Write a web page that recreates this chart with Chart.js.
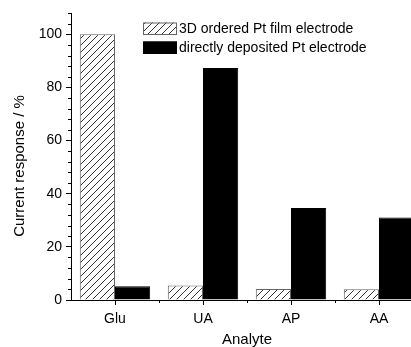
<!DOCTYPE html>
<html>
<head>
<meta charset="utf-8">
<script src="https://cdn.jsdelivr.net/npm/chart.js@4.4.1/dist/chart.umd.min.js"></script>
<style>
  html, body { margin: 0; padding: 0; background: #fff; overflow: hidden; }
  #wrap { position: relative; width: 424px; height: 347px; }
</style>
</head>
<body>
<div id="wrap"><canvas id="c"></canvas></div>
<script>
const categories = ['Glu', 'UA', 'AP', 'AA'];
const orderedFilm = [100, 5.5, 4.1, 4.0];
const directDeposit = [5.2, 87.3, 34.6, 31.0];
const seriesNames = ['3D ordered Pt film electrode', 'directly deposited Pt electrode'];
const yTickValues = [0, 20, 40, 60, 80, 100];
const yMinorValues = [4, 8, 12, 16, 24, 28, 32, 36, 44, 48, 52, 56, 64, 68, 72, 76, 84, 88, 92, 96, 104, 108];
const yTitle = 'Current response / %';
const xTitle = 'Analyte';

function hatchPattern() {
  const s = 7;
  const p = document.createElement('canvas');
  p.width = s; p.height = s;
  const g = p.getContext('2d');
  g.fillStyle = '#fff';
  g.fillRect(0, 0, s, s);
  g.strokeStyle = '#333';
  g.lineWidth = 1;
  g.beginPath();
  g.moveTo(0, s); g.lineTo(s, 0);
  g.moveTo(-1, 1); g.lineTo(1, -1);
  g.moveTo(s - 1, s + 1); g.lineTo(s + 1, s - 1);
  g.stroke();
  return document.getElementById('c').getContext('2d').createPattern(p, 'repeat');
}

const FONT = 'Liberation Sans, Arial, sans-serif';

const extrasPlugin = {
  id: 'extras',
  afterDraw(chart) {
    const ctx = chart.ctx;
    const y = chart.scales.y, x = chart.scales.x;
    const L = Math.round(chart.chartArea.left), B = Math.round(chart.chartArea.bottom);
    ctx.save();
    ctx.fillStyle = '#000';
    yMinorValues.forEach(v => {
      const py = Math.round(y.getPixelForValue(v));
      ctx.fillRect(L - 3, py, 3, 1);
    });
    for (let i = 0; i < categories.length; i++) {
      const pm = Math.round(x.getPixelForValue(i + 0.5));
      ctx.fillRect(pm, B, 1, 3);
    }

    // y-axis title
    ctx.save();
    ctx.translate(20, 166);
    ctx.rotate(-Math.PI / 2);
    ctx.font = '15px ' + FONT;
    ctx.textAlign = 'center';
    ctx.textBaseline = 'middle';
    ctx.fillStyle = '#000';
    ctx.fillText(yTitle, 0, 0);
    ctx.restore();

    // legend
    const ds = chart.data.datasets;
    const bx = 143, bw = 34, bh = 12.5;
    const rows = [22.5, 41.5];
    ctx.font = '14px ' + FONT;
    ctx.textBaseline = 'middle';
    ctx.textAlign = 'left';
    ds.forEach((d, i) => {
      const top = rows[i];
      ctx.fillStyle = d.backgroundColor;
      ctx.fillRect(bx, top, bw, bh);
      ctx.strokeStyle = d.borderColor;
      ctx.lineWidth = 1;
      ctx.strokeRect(bx + 0.5, top + 0.5, bw - 1, bh - 1);
      ctx.fillStyle = '#000';
      ctx.fillText(d.label, bx + bw + 2, top + bh / 2 + 0.5);
    });
    ctx.restore();
  }
};

const hatch = hatchPattern();

new Chart(document.getElementById('c'), {
  type: 'bar',
  data: {
    labels: categories,
    datasets: [
      { label: seriesNames[0], data: orderedFilm, backgroundColor: hatch, borderColor: '#666', borderWidth: 1 },
      { label: seriesNames[1], data: directDeposit, backgroundColor: '#000', borderColor: '#000', borderWidth: 1 }
    ]
  },
  options: {
    responsive: true,
    maintainAspectRatio: false,
    animation: false,
    categoryPercentage: 0.8,
    barPercentage: 1.0,
    layout: { padding: { top: 13, right: 1, left: 0, bottom: 0 } },
    plugins: { legend: { display: false }, tooltip: { enabled: false } },
    scales: {
      x: {
        type: 'category',
        offset: true,
        grid: { display: true, drawOnChartArea: false, drawTicks: true, tickLength: 5, color: '#000', tickColor: '#000', offset: false },
        border: { display: true, color: '#000', width: 1 },
        ticks: { color: '#000', font: { family: FONT, size: 14 }, padding: 6, maxRotation: 0 },
        title: { display: true, text: xTitle, color: '#000', font: { family: FONT, size: 15 }, padding: { top: 0, bottom: -2 } },
        afterFit(scale) { scale.height = 47; }
      },
      y: {
        min: 0,
        max: 108,
        grid: { display: true, drawOnChartArea: false, drawTicks: true, tickLength: 5, color: '#000', tickColor: '#000' },
        border: { display: true, color: '#000', width: 1 },
        afterBuildTicks(scale) { scale.ticks = yTickValues.map(v => ({ value: v })); },
        ticks: { color: '#000', font: { family: FONT, size: 14 }, padding: 4 },
        title: { display: false },
        afterFit(scale) { scale.width = 71; scale.paddingTop = 0; scale.paddingBottom = 0; }
      }
    }
  },
  plugins: [extrasPlugin]
});
</script>
</body>
</html>
